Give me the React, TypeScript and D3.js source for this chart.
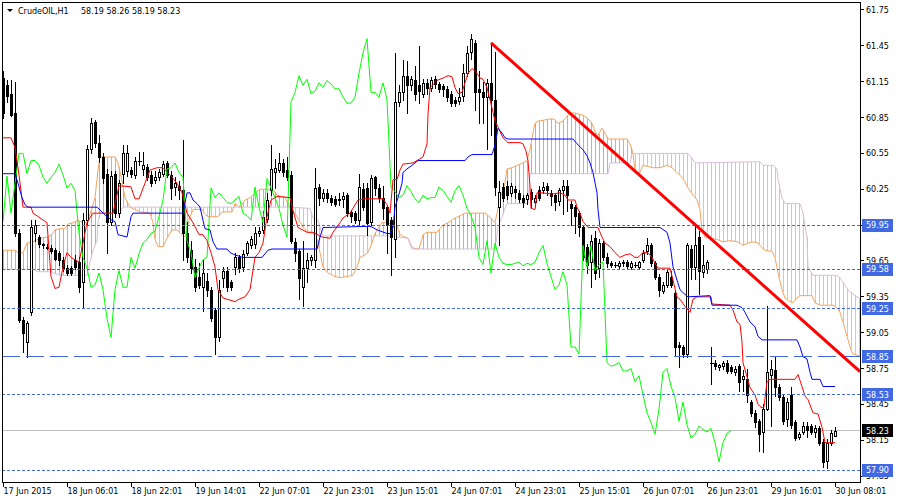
import * as d3 from "d3";

// H1 candles: open, high, low, close
const candles: [number, number, number, number][] = [
  [61.18, 61.24, 60.85, 60.89], [61.12, 61.16, 60.98, 61.03], [61.05, 61.16, 60.86, 60.87], [60.89, 61.15, 59.86, 59.88],
  [59.88, 59.92, 59.14, 59.16], [59.16, 59.18, 58.89, 59.05], [58.97, 59.15, 58.85, 59.13], [59.22, 59.99, 59.2, 59.93],
  [59.88, 59.99, 59.82, 59.95], [59.85, 59.87, 59.77, 59.79], [59.79, 59.8, 59.76, 59.78], [59.77, 59.79, 59.75, 59.76],
  [59.76, 59.78, 59.72, 59.73], [59.74, 59.76, 59.66, 59.67], [59.72, 59.73, 59.62, 59.66], [59.66, 59.68, 59.57, 59.59],
  [59.59, 59.62, 59.53, 59.55], [59.59, 59.61, 59.53, 59.55], [59.66, 59.7, 59.58, 59.6], [59.64, 59.68, 59.39, 59.43],
  [59.47, 60.05, 59.26, 59.99], [59.99, 60.62, 59.96, 60.59], [60.59, 60.85, 60.55, 60.8], [60.81, 60.83, 60.6, 60.64],
  [60.64, 60.7, 60.48, 60.52], [60.52, 60.55, 60.3, 60.34], [60.38, 60.42, 59.72, 59.98], [59.98, 60.4, 59.95, 60.36],
  [60.38, 60.4, 60.02, 60.05], [60.05, 60.33, 60.02, 60.3], [60.38, 60.62, 60.3, 60.55], [60.4, 60.62, 60.36, 60.55],
  [60.41, 60.44, 60.35, 60.38], [60.37, 60.52, 60.34, 60.49], [60.49, 60.56, 60.45, 60.49], [60.42, 60.56, 60.37, 60.45],
  [60.44, 60.46, 60.33, 60.35], [60.37, 60.4, 60.28, 60.3], [60.33, 60.4, 60.3, 60.35], [60.35, 60.42, 60.33, 60.39],
  [60.38, 60.49, 60.36, 60.46], [60.47, 60.49, 60.35, 60.37], [60.37, 60.4, 60.17, 60.26], [60.27, 60.35, 60.2, 60.3],
  [60.28, 60.32, 60.17, 60.24], [60.24, 60.66, 59.66, 59.88], [59.88, 59.98, 59.64, 59.68], [59.74, 59.82, 59.55, 59.59],
  [59.6, 59.67, 59.4, 59.43], [59.52, 59.63, 59.42, 59.45], [59.43, 59.66, 59.23, 59.55], [59.48, 59.55, 59.36, 59.41],
  [59.41, 59.43, 59.15, 59.17], [59.24, 59.26, 58.87, 59.01], [59.01, 59.49, 58.98, 59.41], [59.51, 59.6, 59.43, 59.57],
  [59.57, 59.6, 59.4, 59.43], [59.47, 59.49, 59.41, 59.43], [59.6, 59.72, 59.54, 59.68], [59.68, 59.7, 59.56, 59.59],
  [59.6, 59.74, 59.57, 59.71], [59.72, 59.82, 59.7, 59.8], [59.78, 59.86, 59.76, 59.83], [59.79, 59.93, 59.76, 59.88],
  [59.88, 59.93, 59.86, 59.9], [59.91, 60.07, 59.88, 60.02], [60.0, 60.22, 59.98, 60.16], [60.24, 60.62, 60.2, 60.42],
  [60.39, 60.5, 60.26, 60.43], [60.41, 60.55, 60.39, 60.47], [60.47, 60.5, 60.36, 60.39], [60.41, 60.52, 60.33, 60.35],
  [60.37, 60.4, 59.8, 59.82], [59.81, 59.84, 59.65, 59.72], [59.73, 59.75, 59.33, 59.51], [59.43, 59.82, 59.27, 59.59],
  [59.59, 59.72, 59.47, 59.66], [59.66, 59.7, 59.62, 59.68], [59.66, 60.43, 59.6, 60.26], [60.27, 60.29, 60.12, 60.18],
  [60.18, 60.25, 60.15, 60.22], [60.22, 60.25, 60.14, 60.18], [60.18, 60.2, 60.12, 60.14], [60.17, 60.19, 60.11, 60.13],
  [60.17, 60.22, 60.12, 60.16], [60.17, 60.23, 60.1, 60.19], [60.2, 60.22, 60.03, 60.05], [60.06, 60.08, 59.98, 60.03],
  [60.05, 60.07, 59.97, 59.99], [59.99, 60.38, 59.96, 60.27], [60.25, 60.3, 60.08, 60.1], [60.26, 60.3, 59.87, 59.97],
  [59.98, 60.37, 59.95, 60.34], [60.35, 60.36, 60.2, 60.26], [60.26, 60.29, 60.14, 60.18], [60.18, 60.28, 60.0, 60.09],
  [60.1, 60.12, 59.72, 59.95], [59.99, 60.02, 59.53, 59.85], [59.83, 61.39, 59.68, 60.98], [60.98, 61.12, 60.95, 61.06],
  [61.06, 61.33, 61.0, 61.2], [61.2, 61.32, 60.89, 61.12], [61.12, 61.2, 61.08, 61.17], [61.16, 61.28, 61.0, 61.05],
  [61.12, 61.45, 60.97, 61.07], [61.05, 61.17, 61.02, 61.14], [61.14, 61.17, 61.05, 61.1], [61.1, 61.19, 61.07, 61.16],
  [61.17, 61.2, 61.1, 61.13], [61.13, 61.15, 61.06, 61.09], [61.11, 61.13, 61.03, 61.09], [61.09, 61.11, 60.99, 61.02],
  [61.05, 61.07, 60.95, 60.97], [61.0, 61.02, 60.95, 60.97], [60.99, 61.1, 60.96, 61.02], [61.03, 61.3, 60.99, 61.22],
  [61.22, 61.45, 61.2, 61.39], [61.4, 61.55, 61.34, 61.51], [61.47, 61.5, 60.91, 61.06], [61.09, 61.24, 60.8, 61.06],
  [61.06, 61.15, 60.8, 61.02], [61.02, 61.17, 60.59, 61.14], [61.14, 61.47, 60.7, 61.0], [61.0, 61.4, 60.2, 60.27],
  [60.1, 60.32, 59.78, 60.23], [60.27, 60.3, 60.15, 60.18], [60.28, 60.32, 60.17, 60.2], [60.22, 60.3, 60.19, 60.28],
  [60.25, 60.28, 60.18, 60.23], [60.22, 60.24, 60.14, 60.17], [60.18, 60.2, 60.1, 60.14], [60.17, 60.22, 60.13, 60.2],
  [60.23, 60.25, 60.1, 60.17], [60.14, 60.2, 60.11, 60.18], [60.24, 60.28, 60.16, 60.18], [60.24, 60.31, 60.22, 60.27],
  [60.28, 60.3, 60.2, 60.24], [60.22, 60.24, 60.12, 60.19], [60.2, 60.22, 60.08, 60.14], [60.15, 60.26, 60.12, 60.24],
  [60.24, 60.33, 60.04, 60.28], [60.28, 60.33, 60.07, 60.2], [60.13, 60.15, 59.95, 60.09], [60.1, 60.12, 59.88, 60.03],
  [60.05, 60.07, 59.86, 59.93], [59.93, 59.95, 59.66, 59.68], [59.77, 59.79, 59.55, 59.62], [59.64, 59.87, 59.43, 59.82],
  [59.84, 59.9, 59.5, 59.55], [59.59, 59.83, 59.52, 59.8], [59.8, 59.82, 59.66, 59.68], [59.68, 59.72, 59.6, 59.63],
  [59.63, 59.65, 59.6, 59.62], [59.62, 59.64, 59.6, 59.62], [59.61, 59.65, 59.59, 59.63], [59.63, 59.66, 59.61, 59.64],
  [59.64, 59.66, 59.58, 59.61], [59.6, 59.65, 59.58, 59.63], [59.62, 59.64, 59.6, 59.62], [59.6, 59.65, 59.58, 59.64],
  [59.66, 59.74, 59.64, 59.72], [59.73, 59.84, 59.71, 59.78], [59.78, 59.8, 59.61, 59.63], [59.63, 59.65, 59.5, 59.52],
  [59.52, 59.54, 59.36, 59.41], [59.4, 59.47, 59.38, 59.45], [59.45, 59.58, 59.43, 59.56], [59.52, 59.57, 59.43, 59.45],
  [59.38, 59.4, 58.86, 58.93], [58.95, 58.97, 58.76, 58.93], [58.93, 58.95, 58.85, 58.87], [58.87, 59.8, 58.85, 59.78],
  [59.75, 59.78, 59.5, 59.6], [59.6, 59.95, 59.5, 59.78], [59.85, 59.9, 59.37, 59.57], [59.56, 59.78, 59.52, 59.62],
  [59.58, 59.66, 59.55, 59.64], [58.8, 58.93, 58.62, 58.8], [58.8, 58.82, 58.75, 58.77], [58.76, 58.79, 58.74, 58.78],
  [58.77, 58.81, 58.75, 58.8], [58.8, 58.82, 58.71, 58.73], [58.76, 58.78, 58.71, 58.73], [58.72, 58.77, 58.7, 58.75],
  [58.77, 58.79, 58.56, 58.64], [58.66, 58.74, 58.56, 58.69], [58.66, 58.75, 58.47, 58.53], [58.47, 58.49, 58.35, 58.38],
  [58.38, 58.4, 58.26, 58.3], [58.31, 58.33, 58.06, 58.2], [58.22, 58.45, 58.05, 58.41], [58.41, 59.27, 58.4, 58.72],
  [58.7, 58.82, 58.27, 58.75], [58.74, 58.85, 58.52, 58.6], [58.6, 58.62, 58.49, 58.51], [58.51, 58.53, 58.29, 58.31],
  [58.33, 58.5, 58.27, 58.47], [58.53, 58.6, 58.25, 58.28], [58.3, 58.32, 58.15, 58.17], [58.18, 58.22, 58.16, 58.2],
  [58.22, 58.3, 58.2, 58.27], [58.27, 58.3, 58.18, 58.24], [58.27, 58.29, 58.2, 58.22], [58.22, 58.28, 58.18, 58.25],
  [58.25, 58.27, 58.11, 58.13], [58.14, 58.16, 57.93, 57.97], [57.98, 58.16, 57.92, 58.13], [58.13, 58.24, 58.11, 58.21],
  [58.19, 58.26, 58.19, 58.23],
];

// Ichimoku lines as [bar, price] vertices
const tenkan: [number, number][] = [
  [0, 60.68], [2, 60.68], [3, 60.6], [4, 60.37], [5, 60.1], [7, 60.1], [7.5, 60.05], [11, 59.97], [12, 59.52], [13, 59.42],
  [14, 59.43], [15, 59.6], [16, 59.72], [17, 59.68], [19, 59.64], [20, 59.8], [21, 59.97], [22.5, 60.05], [27.5, 60.05],
  [29, 60.28], [32, 60.27], [33, 60.17], [34, 60.17], [36.75, 60.41], [38.5, 60.43], [40, 60.43], [41.75, 60.37],
  [43.5, 60.3], [44.75, 60.22], [46, 60.05], [47.5, 59.97], [49, 59.87], [50, 59.87], [51, 59.82], [52, 59.72], [53, 59.6],
  [53.75, 59.41], [55, 59.34], [58, 59.31], [59, 59.33], [60.5, 59.35], [61.75, 59.41], [63, 59.68], [64, 59.72], [65, 59.8],
  [66, 60.02], [67, 60.16], [68.5, 60.19], [71.75, 60.18], [72.5, 60.07], [73.75, 59.93], [76, 59.89], [77.5, 59.89],
  [79.75, 59.85], [81.75, 59.84], [82.5, 59.89], [84.25, 59.97], [85, 60.01], [86.75, 60.05], [88.75, 60.16], [90.5, 60.17],
  [95, 60.17], [96, 60.12], [96.75, 60.05], [97.5, 60.33], [98.5, 60.33], [99.25, 60.41], [100, 60.46], [102.5, 60.47],
  [105, 60.52], [106, 60.63], [106.25, 60.88], [106.75, 61.1], [108.5, 61.16], [110, 61.18], [111.25, 61.2], [112.25, 61.19],
  [113, 61.1], [113.75, 61.05], [114.75, 61.06], [115.5, 61.14], [116.25, 61.22], [117.25, 61.26], [118.5, 61.22],
  [119.25, 61.18], [120, 61.17], [121, 61.1], [122.25, 60.93], [123, 60.82], [123.75, 60.77], [125, 60.68], [126.25, 60.64],
  [129.25, 60.64], [130, 60.63], [130.75, 60.57], [131.25, 60.49], [131.75, 60.27], [132, 60.09], [133, 60.08],
  [133.5, 60.22], [134.75, 60.22], [137.25, 60.21], [139.25, 60.22], [140.5, 60.2], [141.25, 60.16], [143, 60.16],
  [143.5, 60.1], [144.25, 60.05], [145, 59.98], [146.25, 59.93], [148.75, 59.93], [149.75, 59.85], [150.5, 59.8],
  [151.75, 59.77], [153, 59.72], [154.25, 59.68], [155.5, 59.7], [156.75, 59.71], [158, 59.68], [158.75, 59.68], [160, 59.72],
  [161.25, 59.72], [162.25, 59.68], [163, 59.63], [163.75, 59.59], [166.75, 59.59], [167.5, 59.49], [168.5, 59.35],
  [169.25, 59.33], [170.5, 59.27], [171.75, 59.22], [172.5, 59.33], [173.5, 59.35], [177, 59.35], [177.25, 59.29],
  [181.75, 59.28], [182.5, 59.24], [183.5, 59.14], [184.25, 59.12], [184.75, 58.97], [185, 58.8], [186, 58.68],
  [186.75, 58.59], [188, 58.53], [188.75, 58.45], [189.75, 58.42], [190.25, 58.43], [191, 58.64], [191.75, 58.66],
  [198, 58.66], [198.75, 58.7], [199.75, 58.6], [200.5, 58.52], [201.25, 58.49], [202.5, 58.38], [203.75, 58.37],
  [204.75, 58.26], [205.5, 58.13], [208, 58.13],
];

const kijun: [number, number][] = [
  [0, 60.38], [3, 60.38], [3.75, 60.3], [4.75, 60.18], [5.5, 60.12], [6.25, 60.1], [23.5, 60.1], [24.75, 60.06], [26, 60.02],
  [27.25, 59.99], [28, 59.98], [28.75, 59.87], [31, 59.85], [32, 60.02], [32.5, 60.05], [45, 60.05], [46, 60.22],
  [46.75, 60.22], [47.5, 60.16], [48.5, 60.13], [49.25, 60.1], [50, 59.99], [50.5, 59.92], [51.75, 59.91], [52.5, 59.81],
  [53.5, 59.75], [56, 59.75], [56.75, 59.72], [58, 59.7], [60, 59.68], [64.75, 59.68], [66.25, 59.74], [67.25, 59.75],
  [78.5, 59.75], [79.25, 59.85], [80, 59.93], [91.75, 59.94], [92.5, 59.93], [93.5, 59.91], [96, 59.88], [96.75, 59.88],
  [97.5, 59.93], [98, 60.1], [98.75, 60.18], [99.75, 60.3], [100, 60.39], [101, 60.42], [102.25, 60.45], [103.75, 60.49],
  [115.5, 60.49], [116.25, 60.52], [117.25, 60.54], [122.25, 60.54], [123, 60.62], [123.75, 60.76], [124.75, 60.72],
  [125.5, 60.68], [126.25, 60.67], [142.5, 60.67], [143.5, 60.63], [145, 60.58], [146, 60.53], [146.75, 60.47],
  [147.5, 60.39], [148.5, 60.22], [148.75, 60.08], [149.25, 59.93], [164.25, 59.93], [166, 59.89], [166.75, 59.8],
  [167.5, 59.6], [168.5, 59.49], [169.25, 59.41], [170.5, 59.37], [171.25, 59.35], [176.75, 59.36], [177.25, 59.28],
  [183.5, 59.28], [184.75, 59.26], [185.5, 59.22], [186.75, 59.14], [188, 59.1], [188.75, 59.02], [189.75, 58.99],
  [198.5, 58.99], [199.25, 58.93], [200, 58.85], [201, 58.83], [201.75, 58.72], [202.25, 58.66], [204.25, 58.66],
  [205, 58.6], [208, 58.6],
];

const senkouA: [number, number][] = [
  [0, 59.74], [3, 59.74], [3.75, 59.72], [5, 59.72], [6, 59.8], [7.5, 59.81], [9.25, 59.84], [11, 59.85], [12.25, 59.87],
  [13, 59.91], [14.25, 59.92], [15.5, 59.92], [16.25, 59.96], [17.5, 59.97], [18.75, 59.99], [20, 59.97], [21, 59.97],
  [22.25, 60.09], [23, 60.18], [23.75, 60.41], [24.25, 60.52], [28, 60.52], [28.75, 60.47], [29.75, 60.32], [30.5, 60.18],
  [31.75, 60.1], [34.25, 60.06], [36.75, 60.05], [37.5, 59.97], [38, 59.83], [38.75, 59.77], [40, 59.77], [41, 59.84],
  [42.25, 59.91], [43.5, 59.91], [44.75, 59.87], [45.5, 59.85], [46, 59.93], [46.75, 60.02], [47.5, 60.08], [49.75, 60.08],
  [50.5, 60.04], [51.25, 60.02], [53.75, 60.02], [54.75, 60.06], [57.25, 60.06], [58, 60.13], [59.25, 60.1], [60.5, 60.16],
  [61.75, 60.18], [63, 60.22], [64.25, 60.25], [67.5, 60.25], [68.5, 60.2], [70.5, 60.18], [71.75, 60.1], [72.5, 60.07],
  [73.5, 60.02], [75, 59.93], [76.25, 59.89], [77.5, 59.88], [78.5, 59.83], [79.25, 59.72], [80, 59.6], [81.25, 59.55],
  [83, 59.52], [84.25, 59.51], [86, 59.52], [87.5, 59.53], [88.5, 59.6], [89.25, 59.68], [90.5, 59.7], [91.25, 59.72],
  [92.25, 59.8], [93, 59.88], [93.75, 59.92], [94.75, 59.97], [96, 59.97], [97.5, 59.95], [98.5, 59.95], [99.25, 59.87],
  [100.5, 59.85], [101.25, 59.84], [102.25, 59.76], [104, 59.75], [105, 59.87], [106, 59.89], [108.5, 59.89],
  [109.25, 59.92], [110, 59.95], [111.25, 59.97], [112.5, 60.0], [113.75, 60.02], [115.5, 60.05], [120.5, 60.05],
  [121.25, 60.03], [122.25, 60.0], [123, 59.97], [123.5, 60.05], [124.25, 60.17], [125.5, 60.3], [126, 60.42],
  [127.25, 60.43], [128.5, 60.45], [130, 60.47], [131, 60.49], [131.75, 60.58], [132.25, 60.68], [133, 60.8],
  [133.75, 60.82], [137.25, 60.84], [138, 60.83], [138.75, 60.8], [140, 60.82], [141.25, 60.87], [142.5, 60.89],
  [143.75, 60.88], [145, 60.87], [146.25, 60.84], [147.25, 60.8], [148, 60.73], [148.75, 60.7], [149.75, 60.76],
  [150.5, 60.72], [151.25, 60.67], [156, 60.67], [156.75, 60.63], [157.5, 60.55], [158, 60.41], [158.5, 60.38],
  [159.25, 60.39], [160, 60.45], [162.5, 60.43], [164.25, 60.43], [166, 60.45], [167.25, 60.43], [168.5, 60.39],
  [169.75, 60.35], [170.5, 60.31], [171.25, 60.26], [172.5, 60.2], [173.5, 60.16], [174.25, 60.08], [174.75, 59.91],
  [175.5, 59.85], [176.75, 59.84], [178.5, 59.83], [180, 59.81], [181.75, 59.82], [183.75, 59.81], [185, 59.78],
  [186.25, 59.8], [187.5, 59.81], [188.75, 59.8], [189.75, 59.76], [190.5, 59.74], [192.25, 59.73], [193, 59.68],
  [193.75, 59.55], [194.75, 59.41], [195.5, 59.34], [196.75, 59.31], [197.5, 59.3], [198.5, 59.34], [199.25, 59.36],
  [202.25, 59.36], [203, 59.3], [204.25, 59.28], [207.5, 59.28], [208.5, 59.26], [209.25, 59.22], [210, 59.14], [211, 59.02],
  [211.75, 58.93], [212.5, 58.87], [215, 58.85],
];

const senkouB: [number, number][] = [
  [0, 59.58], [7.5, 59.58], [8.75, 59.56], [11.75, 59.56], [12.5, 59.55], [14.25, 59.53], [21, 59.53], [21.75, 59.64],
  [22.5, 59.74], [23.5, 59.82], [23.75, 59.97], [24.25, 60.05], [28, 60.05], [28.75, 60.03], [30, 60.1], [71.75, 60.1],
  [76.75, 60.09], [77.5, 60.01], [78.75, 59.99], [79.75, 59.88], [80, 59.86], [97.5, 59.86], [98.5, 59.85], [101.25, 59.84],
  [102.25, 59.75], [123, 59.75], [123.75, 59.93], [124.75, 60.02], [125.5, 60.09], [126, 60.13], [131.25, 60.13],
  [131.75, 60.38], [151.25, 60.38], [151.75, 60.47], [156.75, 60.47], [157.25, 60.55], [171.25, 60.55], [172.25, 60.51],
  [173, 60.47], [189.25, 60.48], [190, 60.45], [192.5, 60.45], [193.5, 60.42], [193.75, 60.33], [194.75, 60.18],
  [195.5, 60.13], [199.25, 60.13], [200, 60.05], [201, 59.85], [201.25, 59.6], [202.5, 59.53], [208.5, 59.53],
  [209.25, 59.51], [210, 59.47], [211.25, 59.41], [212.25, 59.38], [213.5, 59.35], [215, 59.32],
];

const chikouShift = 26;

const timeTicks: [number, string][] = [
  [0, "17 Jun 2015"], [16, "18 Jun 06:01"], [32, "18 Jun 22:01"], [48, "19 Jun 14:01"], [64, "22 Jun 07:01"],
  [80, "22 Jun 23:01"], [96, "23 Jun 15:01"], [112, "24 Jun 07:01"], [128, "24 Jun 23:01"], [144, "25 Jun 15:01"],
  [160, "26 Jun 07:01"], [176, "26 Jun 23:01"], [192, "29 Jun 16:01"], [208, "30 Jun 08:01"],
];

const priceTicks = [61.75, 61.45, 61.15, 60.85, 60.55, 60.25, 59.95, 59.65, 59.35, 59.05, 58.75, 58.45, 58.15, 57.85];
const levels = [59.95, 59.58, 59.25, 58.85, 58.53, 57.9];
const longDashLevel = 58.85;
const bidPrice = 58.23;
const trendFrom: [number, number] = [122, 61.475];
const trendTo: [number, number] = [214.25, 58.725];
const title = "CrudeOIL,H1";
const ohlcText = "58.19 58.26 58.19 58.23";

const W = 900;
const H = 500;
const plot = { left: 2, top: 2, right: 860, bottom: 482 };
const font = "'DejaVu Sans', sans-serif";

function valueAt(pts: [number, number][], i: number): number | null {
  if (i < pts[0][0] || i > pts[pts.length - 1][0]) return null;
  for (let k = 1; k < pts.length; k++) {
    const [x0, y0] = pts[k - 1];
    const [x1, y1] = pts[k];
    if (i <= x1) return x1 === x0 ? y1 : y0 + ((y1 - y0) * (i - x0)) / (x1 - x0);
  }
  return null;
}

export default function App() {
  const x = d3.scaleLinear().domain([0, 208]).range([3, 835]);
  const y = d3.scaleLinear().domain([57.9, 61.75]).range([470.2, 9.9]);
  const line = d3
    .line<[number, number]>()
    .x((d) => x(d[0]))
    .y((d) => y(d[1]));

  const chikou: [number, number][] = candles
    .map((c, i) => [i - chikouShift, c[3]] as [number, number])
    .filter((d) => d[0] >= 0);

  // cloud hatching, one vertical stroke per bar
  const hatch = d3.range(0, 216).map((i) => ({
    i,
    a: valueAt(senkouA, i),
    b: valueAt(senkouB, i),
  }));

  const px = (v: number) => Math.round(v) + 0.5;
  const row = (v: number) => Math.floor(v) + 0.5;

  return (
    <svg
      width={W}
      height={H}
      style={{ position: "absolute", left: 0, top: 0, background: "#fff" }}
      fontFamily={font}
    >
      <defs>
        <clipPath id="plot">
          <rect x={plot.left} y={plot.top} width={plot.right - plot.left} height={plot.bottom - plot.top} />
        </clipPath>
      </defs>
      <rect width={W} height={H} fill="#fff" />

      <g clipPath="url(#plot)">
        <line
          x1={plot.left}
          x2={plot.right}
          y1={row(y(bidPrice))}
          y2={row(y(bidPrice))}
          stroke="#C0C0C0"
          shapeRendering="crispEdges"
        />
        <g shapeRendering="crispEdges">
          {hatch.map((h) =>
            h.a == null || h.b == null ? null : (
              <line
                key={h.i}
                x1={px(x(h.i))}
                x2={px(x(h.i))}
                y1={y(h.a)}
                y2={y(h.b)}
                stroke={h.a >= h.b ? "#F4A460" : "#D8BFD8"}
              />
            )
          )}
        </g>
        <path d={line(senkouA) ?? ""} fill="none" stroke="#F4A460" />
        <path d={line(senkouB) ?? ""} fill="none" stroke="#D8BFD8" />

        <g shapeRendering="crispEdges">
          {candles.map(([o, hi, lo, c], i) => {
            const cx = px(x(i));
            const top = Math.round(y(Math.max(o, c)));
            const bot = Math.round(y(Math.min(o, c)));
            return (
              <g key={i}>
                <line x1={cx} x2={cx} y1={Math.round(y(hi))} y2={Math.round(y(lo)) + 1} stroke="#000" />
                {bot - top < 1 ? (
                  <line x1={cx - 1.5} x2={cx + 2.5} y1={top + 0.5} y2={top + 0.5} stroke="#000" />
                ) : (
                  <rect
                    x={cx - 1}
                    y={top + 0.5}
                    width={2}
                    height={bot - top}
                    fill={c >= o ? "#fff" : "#000"}
                    stroke="#000"
                  />
                )}
              </g>
            );
          })}
        </g>

        <path d={line(chikou) ?? ""} fill="none" stroke="#00FF00" />
        <path d={line(tenkan) ?? ""} fill="none" stroke="#FF0000" />
        <path d={line(kijun) ?? ""} fill="none" stroke="#0000FF" />

        <g shapeRendering="crispEdges">
          {levels.map((p) => (
            <line
              key={p}
              x1={plot.left}
              x2={plot.right}
              y1={row(y(p))}
              y2={row(y(p))}
              stroke="#4169E1"
              strokeDasharray={p === longDashLevel ? "18,6" : "3,2"}
            />
          ))}
        </g>

        <line
          x1={x(trendFrom[0])}
          y1={y(trendFrom[1])}
          x2={x(trendTo[0])}
          y2={y(trendTo[1])}
          stroke="#FF0000"
          strokeWidth={3}
        />
      </g>

      {/* frame */}
      <rect
        x={plot.left + 0.5}
        y={plot.top + 0.5}
        width={plot.right - plot.left}
        height={plot.bottom - plot.top}
        fill="none"
        stroke="#000"
        shapeRendering="crispEdges"
      />

      {/* price axis */}
      <g fontSize={8} fill="#000">
        {priceTicks.map((p) => (
          <g key={p}>
            <line x1={plot.right} x2={plot.right + 4} y1={row(y(p))} y2={row(y(p))} stroke="#000" shapeRendering="crispEdges" />
            <text x={866} y={y(p) + 3}>
              {p.toFixed(2)}
            </text>
          </g>
        ))}
        {levels.map((p) => (
          <g key={p}>
            <rect x={862} y={Math.floor(y(p)) - 6} width={31} height={13} fill="#4169E1" />
            <text x={866} y={y(p) + 3} fill="#fff">
              {p.toFixed(2)}
            </text>
          </g>
        ))}
        <rect x={862} y={Math.floor(y(bidPrice)) - 6} width={31} height={13} fill="#000" />
        <text x={866} y={y(bidPrice) + 3} fill="#fff">
          {bidPrice.toFixed(2)}
        </text>
      </g>

      {/* time axis */}
      <g fontSize={8} fill="#000">
        {timeTicks.map(([i, label]) => (
          <g key={i}>
            <line x1={px(x(i))} x2={px(x(i))} y1={plot.bottom} y2={plot.bottom + 5} stroke="#000" shapeRendering="crispEdges" />
            <text x={x(i) + 0.5} y={494}>
              {label}
            </text>
          </g>
        ))}
      </g>

      {/* title */}
      <polygon points="7,9 13,9 10,12" fill="#000" />
      <text x={18} y={14} fontSize={8} fill="#000">
        {title}
      </text>
      <text x={81} y={14} fontSize={8} fill="#000">
        {ohlcText}
      </text>
    </svg>
  );
}
